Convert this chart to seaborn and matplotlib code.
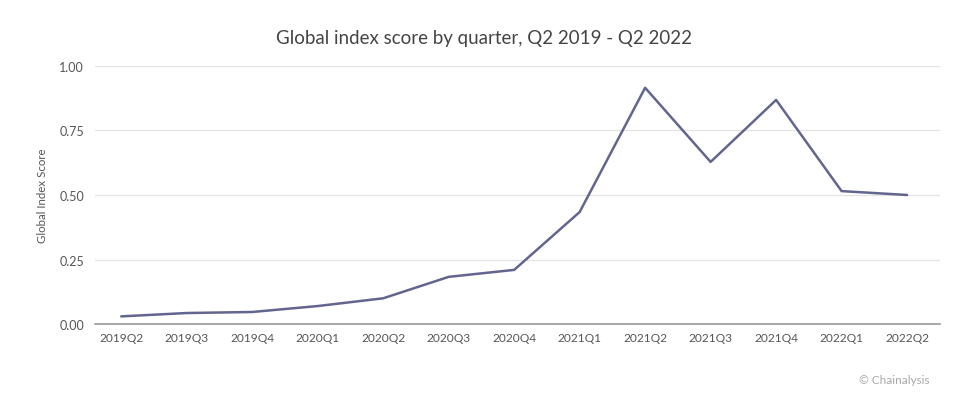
import matplotlib
matplotlib.use("Agg")
import matplotlib.pyplot as plt
import seaborn as sns
import pandas as pd

quarters = ["2019Q2", "2019Q3", "2019Q4", "2020Q1", "2020Q2", "2020Q3", "2020Q4",
            "2021Q1", "2021Q2", "2021Q3", "2021Q4", "2022Q1", "2022Q2"]
scores = [0.030, 0.043, 0.047, 0.070, 0.100, 0.183, 0.210,
          0.434, 0.915, 0.628, 0.868, 0.515, 0.500]
yticks = [0.0, 0.25, 0.5, 0.75, 1.0]

df = pd.DataFrame({"quarter": quarters, "score": scores})

sns.set_theme(style="white")
plt.rcParams["font.family"] = ["Lato", "DejaVu Sans"]

fig = plt.figure(figsize=(9.8, 4.1), dpi=100)
ax = fig.add_axes([0.097, 0.207, 0.862, 0.630])

sns.lineplot(data=df, x="quarter", y="score", ax=ax, color="#62668f",
             linewidth=1.8, sort=False)

ax.set_ylim(0, 1.0)
ax.set_xlim(-0.4, 12.5)
ax.set_yticks(yticks)
ax.set_yticklabels([f"{v:.2f}" for v in yticks], color="#555555", fontsize=9)
ax.tick_params(axis="x", labelsize=8.6, labelcolor="#555555", length=0, pad=6)
ax.tick_params(axis="y", length=0, pad=8)
ax.grid(axis="y", color="#e3e3e3", linewidth=0.9)
ax.set_axisbelow(True)
for s in ["top", "right", "left"]:
    ax.spines[s].set_visible(False)
ax.spines["bottom"].set_color("#9a9a9a")
ax.spines["bottom"].set_linewidth(1.2)

ax.set_xlabel("")
ax.set_ylabel("Global Index Score", fontsize=8.3, color="#555555", labelpad=8)

fig.text(0.494, 0.905, "Global index score by quarter, Q2 2019 - Q2 2022",
         ha="center", va="center", fontsize=13.5, color="#444444")
fig.text(0.948, 0.073, "© Chainalysis", ha="right", va="center",
         fontsize=8.5, color="#a8a8a8")

fig.savefig("out.png", dpi=100, facecolor="white")
